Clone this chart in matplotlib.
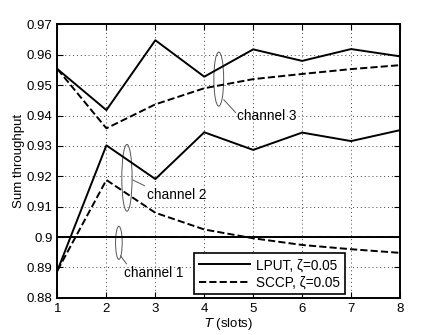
import matplotlib
matplotlib.use("Agg")
import matplotlib.pyplot as plt
from matplotlib.patches import Ellipse

plt.rcParams['font.family'] = ['Liberation Sans', 'DejaVu Sans']
plt.rcParams['font.size'] = 9

slots = [1, 2, 3, 4, 5, 6, 7, 8]
# channel 3
lput_ch3 = [0.9553, 0.9418, 0.9648, 0.9528, 0.9618, 0.9580, 0.9619, 0.9595]
sccp_ch3 = [0.9553, 0.9358, 0.9437, 0.9490, 0.9520, 0.9537, 0.9553, 0.9566]
# channel 2
lput_ch2 = [0.8890, 0.9302, 0.9191, 0.9345, 0.9287, 0.9344, 0.9316, 0.9352]
sccp_ch2 = [0.8890, 0.9188, 0.9080, 0.9025, 0.8996, 0.8974, 0.8960, 0.8948]
# channel 1
lput_ch1 = [0.9, 0.9, 0.9, 0.9, 0.9, 0.9, 0.9, 0.9]
sccp_ch1 = [0.9, 0.9, 0.9, 0.9, 0.9, 0.9, 0.9, 0.9]

labels = ['LPUT, ζ=0.05', 'SCCP, ζ=0.05']

fig = plt.figure(figsize=(4.42, 3.35), dpi=100)
ax = fig.add_axes([0.130, 0.111, 0.775, 0.816])

lw = 1.4
ax.plot(slots, lput_ch3, 'k-', lw=lw, label=labels[0])
ax.plot(slots, sccp_ch3, 'k--', lw=lw, label=labels[1])
ax.plot(slots, lput_ch2, 'k-', lw=lw)
ax.plot(slots, sccp_ch2, 'k--', lw=lw)
ax.plot(slots, sccp_ch1, 'k--', lw=lw)
ax.plot(slots, lput_ch1, 'k-', lw=lw)

# channel annotations: ellipse + leader line + text
notes = [
    # (cx, cy, w, h, line x0, y0, x1, y1, text x, text y, text)
    (4.296, 0.9520, 0.20, 0.0178, 4.40, 0.9452, 4.64, 0.9410, 4.66, 0.9400, 'channel 3'),
    (2.420, 0.9195, 0.21, 0.0220, 2.54, 0.9188, 2.78, 0.9169, 2.82, 0.9138, 'channel 2'),
    (2.255, 0.8981, 0.135, 0.0109, 2.29, 0.8938, 2.41, 0.8912, 2.36, 0.8881, 'channel 1'),
]
for cx, cy, w, h, x0, y0, x1, y1, tx, ty, txt in notes:
    ax.add_patch(Ellipse((cx, cy), w, h, fill=False, ec='#555555', lw=0.7))
    ax.plot([x0, x1], [y0, y1], color='#555555', lw=0.7)
    ax.text(tx, ty, txt, ha='left', va='center', fontsize=9.8)

ax.set_xlim(1, 8)
ax.set_ylim(0.88, 0.97)
ax.set_xticks(slots)
ax.set_yticks([0.88, 0.89, 0.9, 0.91, 0.92, 0.93, 0.94, 0.95, 0.96, 0.97])
ax.set_yticklabels(['0.88', '0.89', '0.9', '0.91', '0.92', '0.93', '0.94', '0.95', '0.96', '0.97'])
ax.tick_params(direction='in', top=True, right=True, length=4, labelsize=9.5)
ax.grid(True, linestyle=(0, (1, 3)), color='#444444', lw=0.7)
for s in ax.spines.values():
    s.set_linewidth(1.4)

ax.set_xlabel(r'$T$ (slots)', fontsize=9.5, labelpad=1)
ax.set_ylabel('Sum throughput', fontsize=9.5, labelpad=1)

leg = ax.legend(loc='lower left', bbox_to_anchor=(0.3985, 0.0124), borderaxespad=0,
                fancybox=False, edgecolor='k', framealpha=1, handlelength=3.8,
                fontsize=9.8, borderpad=0.35, labelspacing=0.25, handletextpad=0.4)
leg.get_frame().set_linewidth(1.2)

fig.savefig('out.png', dpi=100)
